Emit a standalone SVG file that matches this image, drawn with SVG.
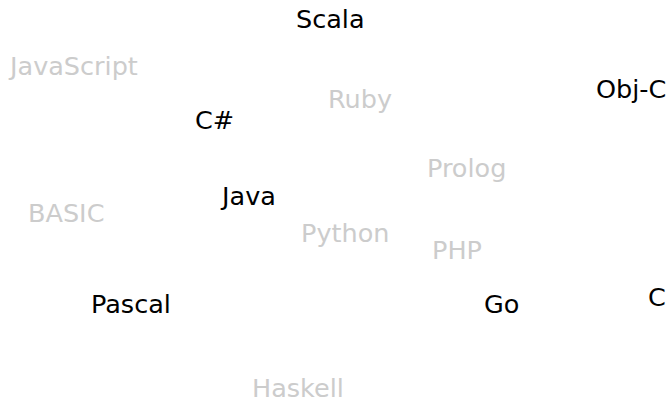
<svg xmlns="http://www.w3.org/2000/svg" width="668" height="400" viewBox="0 0 668 400">
<style>
text{font-family:"DejaVu Sans",sans-serif;font-size:25.5px}
.on{fill:#000}
.off{fill:#ccc}
</style>
<rect width="668" height="400" fill="#fff"/>
<text id="scala" class="on" x="296" y="28">Scala</text>
<text id="javascript" class="off" x="10" y="75">JavaScript</text>
<text id="ruby" class="off" x="328" y="108">Ruby</text>
<text id="csharp" class="on" x="195" y="129">C#</text>
<text id="objc" class="on" x="596" y="98">Obj-C</text>
<text id="prolog" class="off" x="427" y="177">Prolog</text>
<text id="java" class="on" x="222" y="205">Java</text>
<text id="basic" class="off" x="28" y="222">BASIC</text>
<text id="python" class="off" x="301" y="242">Python</text>
<text id="php" class="off" x="432" y="259">PHP</text>
<text id="pascal" class="on" x="91" y="313">Pascal</text>
<text id="go" class="on" x="484" y="313">Go</text>
<text id="c" class="on" x="648" y="306">C</text>
<text id="haskell" class="off" x="252" y="397">Haskell</text>
</svg>
